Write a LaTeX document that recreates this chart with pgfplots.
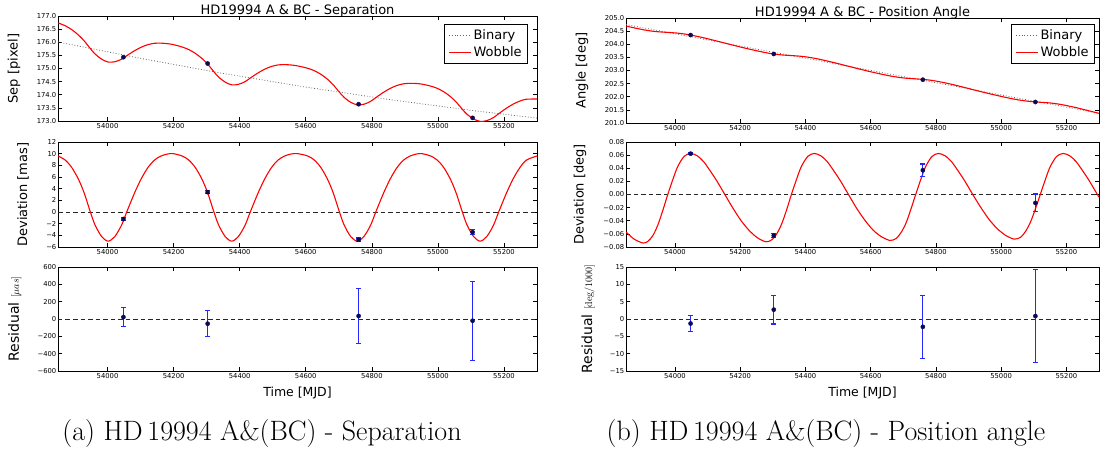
\documentclass[border=0pt]{standalone}
\usepackage{pgfplots}
\pgfplotsset{compat=1.18}
\usepackage{fontspec}
\newfontfamily\dv{DejaVu Sans}
\definecolor{navyc}{rgb}{0.04,0.04,0.33}
\definecolor{bincol}{rgb}{0.40,0.40,0.40}
\definecolor{ebblue}{rgb}{0.15,0.15,1}
\definecolor{wred}{rgb}{1,0,0}
\pgfplotsset{
 mybase/.style={
  scale only axis,
  scaled x ticks=false, scaled y ticks=false,
  xmin=53850, xmax=55300,
  xtick={54000,54200,54400,54600,54800,55000,55200},
  xticklabels={54000,54200,54400,54600,54800,55000,55200},
  tick align=inside,
  major tick length=4pt,
  every tick/.append style={line width=0.6pt, black},
  axis line style={line width=0.8pt},
  tick label style={font=\dv\fontsize{6.8}{7.5}\selectfont},
  /pgf/number format/assume math mode=true,
  xticklabel style={inner sep=2pt},
  yticklabel style={inner sep=1.5pt},
  ylabel style={font=\dv\fontsize{13}{15}\selectfont, anchor=center},
  title style={font=\dv\fontsize{13}{15}\selectfont, at={(0.5,1)}, anchor=base, yshift=-4.5pt},
  xlabel style={font=\dv\fontsize{12.5}{14}\selectfont, at={(axis description cs:0.5,0)}, anchor=base, yshift=-25.5pt},
  legend style={font=\dv\fontsize{13}{16}\selectfont, draw=black, line width=0.6pt, inner xsep=4pt, inner ysep=3.5pt, row sep=1.5pt},
  legend cell align=left,
  legend image code/.code={\draw[##1] (0pt,0pt) -- (22pt,0pt);},
 },
 redline/.style={draw=wred, color=wred, line width=1.1pt, smooth, no marks},
 binline/.style={draw=bincol, line width=0.8pt, dotted, no marks},
 zeroline/.style={black!85, line width=0.9pt, dash pattern=on 4.5pt off 3pt, no marks, forget plot},
 pts/.style={only marks, mark=*, mark size=2.1pt, mark options={fill=navyc, draw=navyc, line width=0.4pt}, forget plot},
 eb/.style={draw=ebblue, line width=1.1pt, mark=-, mark size=2.4pt, mark options={draw=ebblue, solid, line width=1.1pt}, forget plot},
}
\begin{document}
\begin{tikzpicture}
\useasboundingbox (0pt,0pt) rectangle (1105pt,451pt);

% ================= LEFT: top =================
\begin{axis}[mybase, at={(58pt,330pt)}, anchor=south west, width=479pt, height=105pt,
  ymin=173, ymax=177,
  ytick={173,173.5,174,174.5,175,175.5,176,176.5,177},
  yticklabels={173.0,173.5,174.0,174.5,175.0,175.5,176.0,176.5,177.0},
  ylabel={Sep [pixel]}, ylabel style={at={(axis description cs:-0.092,0.5)}},
  title={HD19994 A \& BC - Separation},
  legend style={at={(1,1)}, anchor=north east, xshift=-9pt, yshift=-8pt}]
\addlegendimage{draw=bincol, line width=0.8pt, dotted}
\addlegendentry{Binary}
\addlegendimage{draw=wred, line width=1.1pt}
\addlegendentry{Wobble}
\addplot[binline, forget plot] coordinates {(53850,176.010) (54100,175.386) (54350,174.813) (54600,174.292) (54850,173.823) (55100,173.406) (55300,173.110)};
\addplot[redline, forget plot] coordinates {
(53850,176.737) (53872,176.627) (53892,176.477) (53912,176.274) (53929,176.057) (53948,175.759) (53962,175.557) (53982,175.356) (54002,175.246) (54022,175.257) (54042,175.352) (54058,175.487) (54082,175.679) (54102,175.812) (54122,175.908) (54142,175.960) (54162,175.966) (54182,175.945) (54199,175.910) (54226,175.818) (54246,175.719) (54266,175.575) (54286,175.379) (54303,175.167) (54322,174.875) (54336,174.677) (54356,174.482) (54376,174.378) (54396,174.395) (54416,174.497) (54432,174.637) (54456,174.836) (54476,174.975) (54496,175.078) (54516,175.136) (54536,175.148) (54556,175.133) (54576,175.097) (54606,175.007) (54626,174.915) (54646,174.777) (54666,174.587) (54683,174.381) (54702,174.095) (54716,173.902) (54736,173.713) (54756,173.615) (54776,173.639) (54796,173.746) (54812,173.891) (54836,174.098) (54856,174.244) (54876,174.353) (54896,174.417) (54916,174.435) (54936,174.427) (54952,174.404) (54978,174.330) (54998,174.244) (55018,174.112) (55038,173.929) (55055,173.728) (55074,173.447) (55088,173.259) (55108,173.076) (55128,172.985) (55148,173.014) (55168,173.128) (55184,173.278) (55208,173.492) (55228,173.644) (55248,173.759) (55268,173.829) (55300,173.837)};
\addplot[pts] coordinates {(54048,175.43) (54303,175.19) (54760,173.64) (55105,173.12)};
\end{axis}

% ================= LEFT: middle =================
\begin{axis}[mybase, at={(58pt,204pt)}, anchor=south west, width=479pt, height=105pt,
  ymin=-6, ymax=12,
  ytick={-6,-4,-2,0,2,4,6,8,10,12},
  yticklabels={−6,−4,−2,0,2,4,6,8,10,12},
  ylabel={Deviation [mas]}, ylabel style={at={(axis description cs:-0.073,0.5)}}]
\addplot[zeroline] coordinates {(53850,0) (55300,0)};
\addplot[redline] coordinates {
(53850,9.6) (53872,8.9) (53892,7.6) (53912,5.6) (53929,3.3) (53948,0) (53962,-2.2) (53982,-4.2) (54002,-5) (54022,-4.2) (54042,-2.3) (54058,0) (54082,3.3) (54102,5.7) (54122,7.6) (54142,8.9) (54162,9.6) (54182,9.95) (54199,10) (54226,9.6) (54246,8.9) (54266,7.6) (54286,5.6) (54303,3.3) (54322,0) (54336,-2.2) (54356,-4.2) (54376,-5) (54396,-4.2) (54416,-2.3) (54432,0) (54456,3.3) (54476,5.7) (54496,7.6) (54516,8.9) (54536,9.6) (54556,9.95) (54576,10) (54606,9.6) (54626,8.9) (54646,7.6) (54666,5.6) (54683,3.3) (54702,0) (54716,-2.2) (54736,-4.2) (54756,-5) (54776,-4.2) (54796,-2.3) (54812,0) (54836,3.3) (54856,5.7) (54876,7.6) (54896,8.9) (54916,9.6) (54936,9.95) (54952,10) (54978,9.6) (54998,8.9) (55018,7.6) (55038,5.6) (55055,3.3) (55074,0) (55088,-2.2) (55108,-4.2) (55128,-5) (55148,-4.2) (55168,-2.3) (55184,0) (55208,3.3) (55228,5.7) (55248,7.6) (55268,8.9) (55300,9.6)};
\addplot[eb] coordinates {(54048,-1.4) (54048,-1.0)};
\addplot[eb] coordinates {(54303,3.15) (54303,3.65)};
\addplot[eb] coordinates {(54760,-5.05) (54760,-4.45)};
\addplot[eb] coordinates {(55105,-3.9) (55105,-3.0)};
\addplot[pts] coordinates {(54048,-1.2) (54303,3.4) (54760,-4.75) (55105,-3.45)};
\end{axis}

% ================= LEFT: bottom =================
\begin{axis}[mybase, at={(58pt,80pt)}, anchor=south west, width=479pt, height=104pt,
  ymin=-600, ymax=600,
  ytick={-600,-400,-200,0,200,400,600},
  yticklabels={−600,−400,−200,0,200,400,600},
  ylabel={\fontsize{14}{16}\selectfont Residual {\fontsize{10}{11}\selectfont$[\mu as]$}},
  ylabel style={at={(axis description cs:-0.09,0.5)}},
  xlabel={Time [MJD]}]
\addplot[zeroline] coordinates {(53850,0) (55300,0)};
\addplot[eb] coordinates {(54048,-84) (54048,128)};
\addplot[eb] coordinates {(54303,-205) (54303,97)};
\addplot[eb] coordinates {(54760,-278) (54760,348)};
\addplot[eb] coordinates {(55105,-476) (55105,436)};
\addplot[pts] coordinates {(54048,22) (54303,-54) (54760,35) (55105,-20)};
\end{axis}

% ================= RIGHT: top =================
\begin{axis}[mybase, at={(626pt,328pt)}, anchor=south west, width=473pt, height=105pt,
  ymin=201, ymax=205,
  ytick={201,201.5,202,202.5,203,203.5,204,204.5,205},
  yticklabels={201.0,201.5,202.0,202.5,203.0,203.5,204.0,204.5,205.0},
  ylabel={Angle [deg]}, ylabel style={at={(axis description cs:-0.093,0.5)}},
  title={HD19994 A \& BC - Position Angle},
  legend style={at={(1,1)}, anchor=north east, xshift=-4pt, yshift=-6pt}]
\addlegendimage{draw=bincol, line width=0.8pt, dotted}
\addlegendentry{Binary}
\addlegendimage{draw=wred, line width=1.1pt}
\addlegendentry{Wobble}
\addplot[binline, forget plot] coordinates {(53850,204.750) (55300,201.371)};
\addplot[redline, forget plot] coordinates {
(53850,204.693) (53875,204.624) (53903,204.553) (53918,204.521) (53933,204.495) (53948,204.476) (53963,204.463) (53978,204.452) (53993,204.439) (54008,204.424) (54028,204.393) (54048,204.351) (54068,204.301) (54088,204.246) (54108,204.185) (54128,204.123) (54153,204.044) (54178,203.965) (54203,203.888) (54228,203.814) (54253,203.745) (54279,203.678) (54297,203.640) (54312,203.614) (54327,203.594) (54342,203.580) (54357,203.569) (54372,203.556) (54387,203.541) (54407,203.510) (54427,203.468) (54447,203.418) (54467,203.362) (54487,203.302) (54507,203.240) (54532,203.161) (54557,203.082) (54582,203.005) (54607,202.932) (54632,202.864) (54659,202.795) (54678,202.754) (54693,202.728) (54708,202.707) (54723,202.693) (54738,202.681) (54753,202.668) (54768,202.653) (54788,202.623) (54808,202.580) (54828,202.530) (54848,202.475) (54868,202.414) (54888,202.353) (54913,202.273) (54938,202.195) (54963,202.119) (54988,202.047) (55013,201.978) (55040,201.909) (55060,201.866) (55075,201.840) (55090,201.819) (55105,201.804) (55120,201.791) (55135,201.778) (55150,201.763) (55170,201.732) (55190,201.690) (55210,201.640) (55230,201.585) (55250,201.524) (55270,201.462) (55295,201.383) (55300,201.368)};
\addplot[pts] coordinates {(54048,204.35) (54303,203.63) (54760,202.65) (55105,201.80)};
\end{axis}

% ================= RIGHT: middle =================
\begin{axis}[mybase, at={(626pt,204pt)}, anchor=south west, width=473pt, height=105pt,
  ymin=-0.08, ymax=0.08,
  ytick={-0.08,-0.06,-0.04,-0.02,0,0.02,0.04,0.06,0.08},
  yticklabels={−0.08,−0.06,−0.04,−0.02,0.00,0.02,0.04,0.06,0.08},
  ylabel={Deviation [deg]}, ylabel style={at={(axis description cs:-0.097,0.5)}}]
\addplot[zeroline] coordinates {(53850,0) (55300,0)};
\addplot[redline] coordinates {
(53850,-0.057) (53875,-0.068) (53903,-0.074) (53918,-0.071) (53933,-0.062) (53948,-0.046) (53963,-0.024) (53978,0) (53993,0.022) (54008,0.042) (54028,0.058) (54048,0.0625) (54068,0.059) (54088,0.050) (54108,0.036) (54128,0.021) (54153,0) (54178,-0.021) (54203,-0.040) (54228,-0.055) (54253,-0.066) (54279,-0.072) (54297,-0.069) (54312,-0.060) (54327,-0.045) (54342,-0.024) (54357,0) (54372,0.022) (54387,0.042) (54407,0.058) (54427,0.0625) (54447,0.059) (54467,0.050) (54487,0.036) (54507,0.021) (54532,0) (54557,-0.021) (54582,-0.039) (54607,-0.054) (54632,-0.064) (54659,-0.070) (54678,-0.067) (54693,-0.058) (54708,-0.044) (54723,-0.023) (54738,0) (54753,0.022) (54768,0.042) (54788,0.058) (54808,0.0625) (54828,0.059) (54848,0.050) (54868,0.036) (54888,0.021) (54913,0) (54938,-0.020) (54963,-0.038) (54988,-0.052) (55013,-0.062) (55040,-0.068) (55060,-0.065) (55075,-0.056) (55090,-0.042) (55105,-0.022) (55120,0) (55135,0.022) (55150,0.042) (55170,0.058) (55190,0.0625) (55210,0.059) (55230,0.050) (55250,0.036) (55270,0.021) (55295,0) (55300,-0.004)};
\addplot[eb] coordinates {(54048,0.0607) (54048,0.0637)};
\addplot[eb] coordinates {(54303,-0.0655) (54303,-0.0595)};
\addplot[eb] coordinates {(54760,0.0276) (54760,0.0464)};
\addplot[eb] coordinates {(55105,-0.0263) (55105,0.0007)};
\addplot[pts] coordinates {(54048,0.0622) (54303,-0.0625) (54760,0.037) (55105,-0.0128)};
\end{axis}

% ================= RIGHT: bottom =================
\begin{axis}[mybase, at={(626pt,80pt)}, anchor=south west, width=473pt, height=104pt,
  ymin=-15, ymax=15,
  ytick={-15,-10,-5,0,5,10,15},
  yticklabels={−15,−10,−5,0,5,10,15},
  ylabel={\fontsize{14}{16}\selectfont Residual {\fontsize{10}{11}\selectfont$[\mathrm{deg}/1000]$}},
  ylabel style={at={(axis description cs:-0.08,0.5)}},
  xlabel={Time [MJD]}]
\addplot[zeroline] coordinates {(53850,0) (55300,0)};
\addplot[eb] coordinates {(54048,-3.5) (54048,0.9)};
\addplot[eb] coordinates {(54303,-1.45) (54303,6.85)};
\addplot[eb] coordinates {(54760,-11.3) (54760,6.8)};
\addplot[eb] coordinates {(55105,-12.6) (55105,14.3)};
\addplot[pts] coordinates {(54048,-1.3) (54303,2.7) (54760,-2.25) (55105,0.85)};
\end{axis}

% ================= captions =================
\node[anchor=base, font=\fontsize{28}{32}\selectfont] at (262pt,11pt) {(a) HD\,19994 A\&(BC) - Separation};
\node[anchor=base, font=\fontsize{28}{32}\selectfont] at (826pt,11pt) {(b) HD\,19994 A\&(BC) - Position angle};
\end{tikzpicture}
\end{document}
